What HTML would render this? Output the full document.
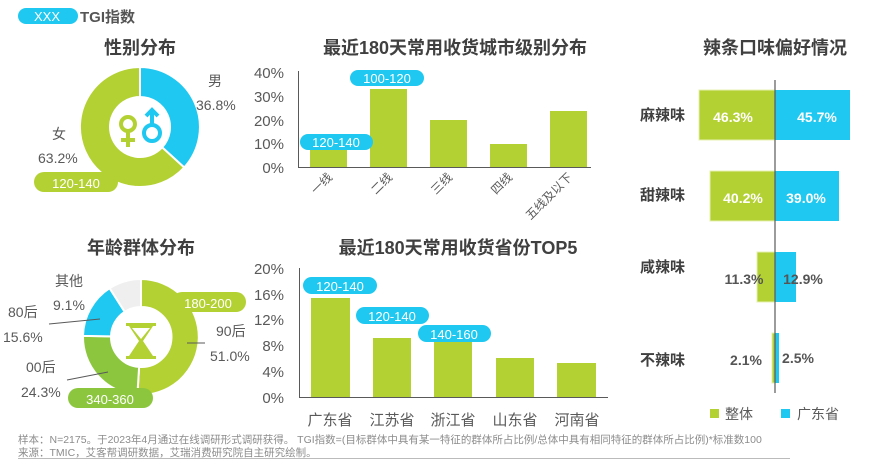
<!DOCTYPE html>
<html><head><meta charset="utf-8"><style>
body{margin:0;background:#fff;}
svg{display:block;font-family:"Liberation Sans","Noto Sans CJK SC",sans-serif;}
.t{font-size:18px;font-weight:bold;fill:#404040;text-anchor:middle}
.ax{font-size:15px;fill:#595959;text-anchor:end}
.lb{font-size:14px;fill:#595959}
.pw{font-size:13px;fill:#fff;text-anchor:middle}
</style></head><body>
<svg width="887" height="459" viewBox="0 0 887 459">
<rect x="18" y="8" width="60" height="16" rx="8" fill="#1fc8f0"/>
<text x="47" y="21" class="pw" font-size="14">XXX</text>
<text x="80" y="22" font-size="15" font-weight="bold" fill="#555">TGI指数</text>

<text x="140" y="54" class="t">性别分布</text>
<text x="455" y="54" class="t">最近180天常用收货城市级别分布</text>
<text x="775" y="54" class="t">辣条口味偏好情况</text>
<text x="141" y="254" class="t">年龄群体分布</text>
<text x="458" y="254" class="t">最近180天常用收货省份TOP5</text>

<!-- gender donut -->
<path d="M140,67 A60,60 0 0 1 184.2,167.5 L162.1,147.3 A30,30 0 0 0 140,97 Z" fill="#1fc8f0" stroke="#fff" stroke-width="2"/>
<path d="M184.2,167.5 A60,60 0 1 1 140,67 L140,97 A30,30 0 1 0 162.1,147.3 Z" fill="#b3d133" stroke="#fff" stroke-width="2"/>
<g fill="none" stroke-width="4">
<circle cx="128" cy="124" r="7" stroke="#b3d133"/>
<line x1="128" y1="131" x2="128" y2="147" stroke="#b3d133"/>
<line x1="121" y1="140" x2="135" y2="140" stroke="#b3d133"/>
<circle cx="152" cy="133" r="8" stroke="#1fc8f0"/>
<line x1="152" y1="125" x2="152" y2="110" stroke="#1fc8f0"/>
<polyline points="146,116 152,110 158,116" stroke="#1fc8f0"/>
</g>
<text x="208" y="86" class="lb" font-size="15">男</text>
<text x="196" y="110" class="lb" font-size="14">36.8%</text>
<text x="52" y="139" class="lb" font-size="15">女</text>
<text x="38" y="163" class="lb" font-size="14">63.2%</text>
<rect x="34" y="172" width="84" height="20" rx="10" fill="#b3d133"/>
<text x="76" y="188" class="pw" font-size="15">120-140</text>

<!-- age donut -->
<g stroke="#fff" stroke-width="2">
<path d="M141,279 A58,58 0 1 1 137.4,394.9 L139.1,366.9 A30,30 0 1 0 141,307 Z" fill="#b3d133"/>
<path d="M137.4,394.9 A58,58 0 0 1 83,335.9 L111,336.4 A30,30 0 0 0 139.1,366.9 Z" fill="#8cc63f"/>
<path d="M83,335.9 A58,58 0 0 1 109.6,288.2 L124.7,311.8 A30,30 0 0 0 111,336.4 Z" fill="#1fc8f0"/>
<path d="M109.6,288.2 A58,58 0 0 1 141,279 L141,307 A30,30 0 0 0 124.7,311.8 Z" fill="#efefef"/>
</g>
<g fill="#b3d133">
<rect x="126" y="323" width="30" height="3"/>
<rect x="126" y="356" width="30" height="3"/>
<path d="M129,326 L153,326 L143,341 L153,356 L129,356 L139,341 Z"/>
</g>
<path d="M132,328 L150,328 L141,339 Z" fill="#fff"/>
<rect x="172" y="292" width="74" height="20" rx="10" fill="#b3d133"/>
<text x="208" y="308" class="pw" font-size="15">180-200</text>
<rect x="68" y="388" width="85" height="20" rx="10" fill="#8cc63f"/>
<text x="110" y="404" class="pw" font-size="15">340-360</text>
<g stroke="#595959" stroke-width="1">
<line x1="187" y1="343" x2="205" y2="343"/>
<line x1="49" y1="324" x2="100" y2="319"/>
<line x1="67" y1="380" x2="108" y2="372"/>
</g>
<text x="55" y="286" class="lb">其他</text>
<text x="53" y="310" class="lb">9.1%</text>
<text x="8" y="317" class="lb">80后</text>
<text x="3" y="342" class="lb">15.6%</text>
<text x="26" y="372" class="lb">00后</text>
<text x="21" y="397" class="lb">24.3%</text>
<text x="216" y="336" class="lb">90后</text>
<text x="210" y="361" class="lb">51.0%</text>

<!-- top bar chart -->
<g class="ax">
<text x="284" y="78" class="ax">40%</text>
<text x="284" y="102" class="ax">30%</text>
<text x="284" y="126" class="ax">20%</text>
<text x="284" y="149" class="ax">10%</text>
<text x="284" y="173" class="ax">0%</text>
</g>
<line x1="298.5" y1="71" x2="298.5" y2="167" stroke="#595959"/>
<line x1="298" y1="167.5" x2="591" y2="167.5" stroke="#595959"/>
<g fill="#b3d133">
<rect x="310" y="147" width="37" height="20"/>
<rect x="370" y="89" width="37" height="78"/>
<rect x="430" y="120" width="37" height="47"/>
<rect x="490" y="144" width="37" height="23"/>
<rect x="550" y="111" width="37" height="56"/>
</g>
<rect x="300" y="134" width="73" height="16" rx="8" fill="#1fc8f0"/>
<text x="336" y="147" class="pw">120-140</text>
<rect x="350" y="70" width="74" height="16" rx="8" fill="#1fc8f0"/>
<text x="387" y="83" class="pw">100-120</text>
<g font-size="12" fill="#595959" text-anchor="end">
<text transform="translate(333,178) rotate(-45)">一线</text>
<text transform="translate(393,178) rotate(-45)">二线</text>
<text transform="translate(453,178) rotate(-45)">三线</text>
<text transform="translate(513,178) rotate(-45)">四线</text>
<text transform="translate(573,178) rotate(-45)">五线及以下</text>
</g>

<!-- bottom bar chart -->
<g>
<text x="284" y="274" class="ax">20%</text>
<text x="284" y="300" class="ax">16%</text>
<text x="284" y="325" class="ax">12%</text>
<text x="284" y="351" class="ax">8%</text>
<text x="284" y="377" class="ax">4%</text>
<text x="284" y="403" class="ax">0%</text>
</g>
<line x1="299.5" y1="268" x2="299.5" y2="397" stroke="#595959"/>
<line x1="299" y1="397.5" x2="608" y2="397.5" stroke="#595959"/>
<g fill="#b3d133">
<rect x="311" y="298" width="39" height="99"/>
<rect x="373" y="338" width="38" height="59"/>
<rect x="434" y="341" width="38" height="56"/>
<rect x="496" y="358" width="38" height="39"/>
<rect x="557" y="363" width="39" height="34"/>
</g>
<rect x="303" y="277" width="74" height="17" rx="8.5" fill="#1fc8f0"/>
<text x="340" y="291" class="pw">120-140</text>
<rect x="356" y="307" width="73" height="17" rx="8.5" fill="#1fc8f0"/>
<text x="392" y="321" class="pw">120-140</text>
<rect x="418" y="325" width="73" height="17" rx="8.5" fill="#1fc8f0"/>
<text x="454" y="339" class="pw">140-160</text>
<g font-size="15" fill="#595959" text-anchor="middle">
<text x="330" y="425">广东省</text>
<text x="392" y="425">江苏省</text>
<text x="453" y="425">浙江省</text>
<text x="515" y="425">山东省</text>
<text x="577" y="425">河南省</text>
</g>

<!-- taste chart -->
<g fill="#b3d133" stroke="#e4f0b0" stroke-width="1">
<rect x="699" y="90" width="76" height="50"/>
<rect x="710" y="171" width="65" height="50"/>
<rect x="757" y="252" width="18" height="50"/>
<rect x="772" y="333" width="3" height="50"/>
</g>
<g fill="#1fc8f0">
<rect x="775" y="90" width="75" height="50"/>
<rect x="775" y="171" width="64" height="50"/>
<rect x="775" y="252" width="21" height="50"/>
<rect x="775" y="333" width="4" height="50"/>
</g>
<line x1="775" y1="80" x2="775" y2="393" stroke="#595959" stroke-width="1.2"/>
<g font-size="15" font-weight="bold" fill="#404040">
<text x="640" y="120">麻辣味</text>
<text x="640" y="200">甜辣味</text>
<text x="640" y="272">咸辣味</text>
<text x="640" y="365">不辣味</text>
</g>
<g font-size="14" font-weight="bold" text-anchor="middle">
<text x="733" y="122" fill="#fff">46.3%</text>
<text x="817" y="122" fill="#fff">45.7%</text>
<text x="743" y="203" fill="#fff">40.2%</text>
<text x="806" y="203" fill="#fff">39.0%</text>
<text x="744" y="284" fill="#555">11.3%</text>
<text x="803" y="284" fill="#555">12.9%</text>
<text x="746" y="365" fill="#555">2.1%</text>
<text x="798" y="363" fill="#555">2.5%</text>
</g>
<rect x="710" y="409" width="9" height="9" fill="#b3d133"/>
<text x="725" y="419" class="lb" font-size="13">整体</text>
<rect x="781" y="409" width="9" height="9" fill="#1fc8f0"/>
<text x="797" y="419" class="lb" font-size="13">广东省</text>

<!-- footer -->
<g font-size="10.5" fill="#8c8c8c">
<text x="18" y="443">样本：N=2175。于2023年4月通过在线调研形式调研获得。 TGI指数=(目标群体中具有某一特征的群体所占比例/总体中具有相同特征的群体所占比例)*标准数100</text>
<text x="18" y="456">来源：TMIC，艾客帮调研数据，艾瑞消费研究院自主研究绘制。</text>
</g>
<line x1="18" y1="458.5" x2="790" y2="458.5" stroke="#bbb"/>
</svg>
</body></html>
